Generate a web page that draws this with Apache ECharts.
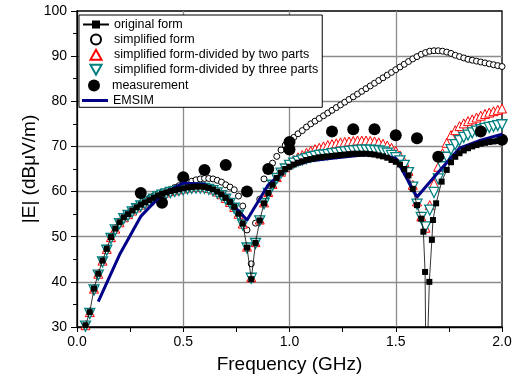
<!DOCTYPE html>
<html>
<head>
<meta charset="utf-8">
<script src="https://cdn.jsdelivr.net/npm/echarts@6.0.0/dist/echarts.min.js"></script>
<style>
html, body { margin: 0; padding: 0; background: #fff; }
#chart { width: 521px; height: 379px; }
</style>
</head>
<body>
<div id="chart"></div>
<script>
// frequency grid (GHz) shared by the simulated curves
var freq = [
    0.04, 0.06, 0.08, 0.10, 0.12, 0.14, 0.16, 0.18, 0.20, 0.22,
    0.24, 0.26, 0.28, 0.30, 0.32, 0.34, 0.36, 0.38, 0.40, 0.42,
    0.44, 0.46, 0.48, 0.50, 0.52, 0.54, 0.56, 0.58, 0.60, 0.62,
    0.64, 0.66, 0.68, 0.70, 0.72, 0.74, 0.76, 0.78, 0.80, 0.82,
    0.84, 0.86, 0.88, 0.90, 0.92, 0.94, 0.96, 0.98, 1.00, 1.02,
    1.04, 1.06, 1.08, 1.10, 1.12, 1.14, 1.16, 1.18, 1.20, 1.22,
    1.24, 1.26, 1.28, 1.30, 1.32, 1.34, 1.36, 1.38, 1.40, 1.42,
    1.44, 1.46, 1.48, 1.50, 1.52, 1.54, 1.56, 1.58, 1.60, 1.62,
    1.64, 1.66, 1.68, 1.70, 1.72, 1.74, 1.76, 1.78, 1.80, 1.82,
    1.84, 1.86, 1.88, 1.90, 1.92, 1.94, 1.96, 1.98, 2.00
];

var simplifiedVal = [
    30.5, 33.3, 38.5, 41.8, 44.8, 47.4, 50.0, 51.9, 53.3, 54.4,
    55.2, 56.0, 56.7, 57.4, 58.0, 58.5, 59.0, 59.5, 59.9, 60.2,
    60.5, 60.9, 61.3, 61.7, 62.0, 62.3, 62.6, 62.8, 62.9, 62.9,
    62.8, 62.5, 62.1, 61.5, 61.0, 60.4, 59.0, 56.8, 51.5, 44.0,
    53.0, 58.3, 62.8, 64.8, 66.3, 67.8, 69.2, 70.3, 71.2, 72.0,
    72.8, 73.5, 74.3, 75.0, 75.6, 76.2, 76.8, 77.4, 78.0, 78.6,
    79.2, 79.8, 80.4, 81.0, 81.6, 82.2, 82.8, 83.4, 84.0, 84.6,
    85.2, 85.8, 86.4, 87.0, 87.6, 88.2, 88.8, 89.4, 89.9, 90.4,
    90.8, 91.1, 91.2, 91.2, 91.1, 90.9, 90.6, 90.2, 89.9, 89.6,
    89.3, 89.1, 88.9, 88.7, 88.5, 88.3, 88.1, 87.9, 87.7
];

var twoPartsVal = [
    30.4, 33.3, 38.5, 41.8, 44.7, 47.3, 49.9, 51.8, 53.2, 54.3,
    55.0, 55.8, 56.5, 57.1, 57.6, 58.1, 58.6, 59.1, 59.5, 59.8,
    60.1, 60.3, 60.5, 60.7, 60.9, 61.0, 61.1, 61.1, 61.0, 60.8,
    60.5, 60.0, 59.4, 58.6, 57.7, 56.6, 55.1, 52.9, 47.8, 41.0,
    48.8, 53.8, 57.6, 59.9, 61.7, 63.2, 64.4, 65.4, 66.3, 67.0,
    67.6, 68.1, 68.6, 69.0, 69.4, 69.7, 70.0, 70.3, 70.5, 70.7,
    70.9, 71.0, 71.1, 71.2, 71.3, 71.3, 71.3, 71.2, 71.1, 70.9,
    70.6, 70.2, 69.7, 69.0, 68.0, 66.6, 64.6, 61.5, 57.8, 54.5,
    52.0, 57.0, 61.8, 65.5, 68.5, 70.8, 72.5, 73.6, 74.5, 75.1,
    75.6, 76.0, 76.4, 76.8, 77.2, 77.5, 77.8, 78.1, 78.4
];

var threePartsVal = [
    30.2, 33.0, 38.2, 41.5, 44.4, 47.0, 49.6, 51.5, 52.9, 54.0,
    54.7, 55.5, 56.2, 56.8, 57.3, 57.8, 58.3, 58.8, 59.2, 59.5,
    59.8, 60.0, 60.2, 60.4, 60.6, 60.7, 60.8, 60.8, 60.7, 60.5,
    60.2, 59.7, 59.1, 58.3, 57.4, 56.3, 54.8, 52.6, 47.5, 40.8,
    48.5, 53.5, 57.3, 59.6, 61.4, 62.9, 64.1, 65.0, 65.8, 66.3,
    66.7, 67.0, 67.3, 67.6, 67.8, 68.0, 68.1, 68.2, 68.4, 68.5,
    68.7, 68.8, 68.9, 69.0, 69.1, 69.2, 69.2, 69.2, 69.1, 69.0,
    68.8, 68.5, 68.0, 67.5, 66.8, 65.8, 64.2, 61.0, 57.2, 54.3,
    52.2, 55.9, 59.8, 62.8, 65.5, 67.6, 69.3, 70.4, 71.3, 72.0,
    72.5, 73.0, 73.4, 73.7, 74.0, 74.2, 74.4, 74.6, 74.8
];

// original form has extra points around the deep null near 1.64 GHz
var origFreq = [
    0.04, 0.06, 0.08, 0.10, 0.12, 0.14, 0.16, 0.18, 0.20, 0.22,
    0.24, 0.26, 0.28, 0.30, 0.32, 0.34, 0.36, 0.38, 0.40, 0.42,
    0.44, 0.46, 0.48, 0.50, 0.52, 0.54, 0.56, 0.58, 0.60, 0.62,
    0.64, 0.66, 0.68, 0.70, 0.72, 0.74, 0.76, 0.78, 0.80, 0.82,
    0.84, 0.86, 0.88, 0.90, 0.92, 0.94, 0.96, 0.98, 1.00, 1.02,
    1.04, 1.06, 1.08, 1.10, 1.12, 1.14, 1.16, 1.18, 1.20, 1.22,
    1.24, 1.26, 1.28, 1.30, 1.32, 1.34, 1.36, 1.38, 1.40, 1.42,
    1.44, 1.46, 1.48, 1.50, 1.52, 1.54, 1.56, 1.58, 1.60, 1.62,
    1.63, 1.638, 1.643, 1.652, 1.658, 1.67, 1.675, 1.69, 1.716,
    1.74, 1.76, 1.78, 1.80, 1.82, 1.84, 1.86, 1.88, 1.90, 1.92,
    1.94, 1.96, 1.98, 2.00
];
var origVal = [
    30.4, 33.3, 38.5, 41.8, 44.7, 47.3, 49.9, 51.8, 53.2, 54.3,
    55.0, 55.8, 56.5, 57.1, 57.6, 58.1, 58.6, 59.1, 59.5, 59.8,
    60.1, 60.3, 60.5, 60.7, 60.9, 61.0, 61.1, 61.1, 61.0, 60.8,
    60.5, 60.0, 59.4, 58.6, 57.7, 56.6, 55.1, 52.9, 47.6, 40.6,
    48.6, 53.6, 57.4, 59.7, 61.5, 63.0, 64.2, 65.0, 65.5, 66.0,
    66.4, 66.7, 67.0, 67.2, 67.4, 67.6, 67.7, 67.8, 67.9, 68.0,
    68.1, 68.2, 68.3, 68.4, 68.4, 68.4, 68.4, 68.3, 68.2, 68.0,
    67.8, 67.5, 67.0, 66.6, 66.0, 65.0, 63.6, 60.6, 57.0, 54.0,
    51.1, 42.2, 15.0, 15.0, 40.0, 49.3, 53.7, 57.4, 62.2,
    64.8, 66.5, 67.7, 68.5, 69.1, 69.6, 70.0, 70.3, 70.6, 70.8,
    71.0, 71.1, 71.2, 71.3
];

var measFreq = [0.3, 0.4, 0.5, 0.6, 0.7, 0.8, 0.9, 1.0, 1.0, 1.2, 1.3, 1.4, 1.5, 1.6, 1.7, 1.9, 2.0];
var measVal = [59.7, 57.5, 63.2, 64.8, 65.9, 60.0, 65.0, 71.0, 69.3, 73.3, 73.8, 73.8, 72.5, 71.8, 67.7, 73.3, 71.5];

var emsimFreq = [0.1, 0.2, 0.3, 0.4, 0.5, 0.6, 0.7, 0.8, 0.9, 1.0, 1.1, 1.2, 1.3, 1.4, 1.5, 1.6, 1.7, 1.8, 1.9, 2.0];
var emsimVal = [35.6, 46.0, 54.5, 59.4, 61.9, 61.6, 58.8, 53.7, 61.5, 65.6, 66.8, 67.4, 67.9, 68.3, 67.4, 58.8, 64.3, 69.6, 71.4, 72.7];

var names = [
    'original form',
    'simplified form',
    'simplified form-divided by two parts',
    'simplified form-divided by three parts',
    'measurement',
    'EMSIM'
];

var FONT = '"Liberation Sans", Arial, sans-serif';

// legend icons as paths so they keep their aspect inside the item box
var ICON_UP = 'path://M5,0L10,9H0Z';
var ICON_DOWN = 'path://M0,0H10L5,9Z';
var ICON_BAR = 'path://M0,0H26V3H0Z';

function pairs(xs, ys) {
    return xs.map(function (x, i) { return [x, ys[i]]; });
}

// three stacked legends so each row can have its own icon size,
// the first one carries the framed box behind all six rows
function getLegends() {
    var base = {
        orient: 'vertical',
        left: 82,
        itemWidth: 26,
        selectedMode: false,
        symbolKeepAspect: true,
        symbolRotate: 0,
        padding: 0,
        textStyle: { color: '#000', fontSize: 12.5, fontFamily: FONT }
    };
    return [
        Object.assign({}, base, {
            left: 79,
            top: 15,
            padding: [3, 4, 31, 3],
            itemHeight: 10,
            itemGap: 2.1,
            backgroundColor: '#fff',
            borderColor: '#000',
            borderWidth: 1,
            data: [
                names[0],
                names[1],
                { name: names[2], icon: ICON_UP },
                { name: names[3], icon: ICON_DOWN }
            ]
        }),
        Object.assign({}, base, {
            left: 88,
            top: 79,
            itemHeight: 12,
            z: 6,
            data: [{ name: names[4], icon: 'circle' }]
        }),
        Object.assign({}, base, {
            top: 94,
            itemHeight: 10,
            z: 6,
            data: [{ name: names[5], icon: ICON_BAR }]
        })
    ];
}

function getSeries() {
    return [
        {
            name: names[0],
            type: 'line',
            data: pairs(origFreq, origVal),
            symbol: 'rect',
            symbolSize: 6,
            showAllSymbol: true,
            itemStyle: { color: '#000' },
            lineStyle: { color: '#000', width: 0.8 }
        },
        {
            name: names[1],
            type: 'scatter',
            data: pairs(freq, simplifiedVal),
            symbol: 'circle',
            symbolSize: 6,
            itemStyle: { color: '#fff', borderColor: '#000', borderWidth: 1, opacity: 1 }
        },
        {
            name: names[2],
            type: 'scatter',
            data: pairs(freq, twoPartsVal),
            symbol: 'triangle',
            symbolSize: 9,
            itemStyle: { color: '#fff', borderColor: '#ff0000', borderWidth: 1, opacity: 1 }
        },
        {
            name: names[3],
            type: 'scatter',
            data: pairs(freq, threePartsVal),
            symbol: 'triangle',
            symbolRotate: 180,
            symbolSize: 10,
            itemStyle: { color: '#fff', borderColor: '#008080', borderWidth: 1.3, opacity: 1 }
        },
        {
            name: names[4],
            type: 'scatter',
            data: pairs(measFreq, measVal),
            symbol: 'circle',
            symbolSize: 12,
            itemStyle: { color: '#000', opacity: 1 }
        },
        {
            name: names[5],
            type: 'line',
            data: pairs(emsimFreq, emsimVal),
            symbol: 'none',
            itemStyle: { color: '#000088' },
            lineStyle: { color: '#000088', width: 3 }
        }
    ];
}

var chart = echarts.init(document.getElementById('chart'));

var option = {
    animation: false,
    backgroundColor: '#fff',
    textStyle: { fontFamily: FONT },
    grid: {
        left: 77,
        right: 19,
        top: 11,
        bottom: 52,
        show: true,
        borderColor: '#000',
        borderWidth: 1.3,
        containLabel: false
    },
    legend: getLegends(),
    xAxis: {
        type: 'value',
        min: 0,
        max: 2,
        interval: 0.5,
        name: 'Frequency (GHz)',
        nameLocation: 'middle',
        nameGap: 28,
        nameMoveOverlap: false,
        nameTextStyle: { color: '#000', fontSize: 19, fontFamily: FONT },
        axisLine: { lineStyle: { color: '#000', width: 1.3 } },
        axisTick: { inside: false, length: 5, lineStyle: { color: '#000', width: 1 } },
        minorTick: { show: true, splitNumber: 2, length: 5, lineStyle: { color: '#000', width: 1 } },
        axisLabel: {
            color: '#000',
            fontSize: 14,
            fontFamily: FONT,
            margin: 8,
            formatter: function (v) { return v.toFixed(1); }
        },
        splitLine: {
            show: true,
            showMinLine: false,
            showMaxLine: false,
            lineStyle: { color: '#8c8c8c', width: 1.3 }
        }
    },
    yAxis: {
        type: 'value',
        min: 30,
        max: 100,
        interval: 10,
        name: '|E| (dB\u03bcV/m)',
        nameLocation: 'middle',
        nameGap: 38,
        nameMoveOverlap: false,
        nameTextStyle: { color: '#000', fontSize: 19, fontFamily: FONT },
        axisLine: { show: true, lineStyle: { color: '#000', width: 1.3 } },
        axisTick: { show: true, inside: false, length: 6, lineStyle: { color: '#000', width: 1 } },
        minorTick: { show: true, splitNumber: 2, length: 4, lineStyle: { color: '#000', width: 1 } },
        axisLabel: { color: '#000', fontSize: 14, fontFamily: FONT, margin: 10 },
        splitLine: {
            show: true,
            showMinLine: false,
            showMaxLine: false,
            lineStyle: { color: '#8c8c8c', width: 1.3 }
        }
    },
    series: getSeries()
};

chart.setOption(option);
</script>
</body>
</html>
